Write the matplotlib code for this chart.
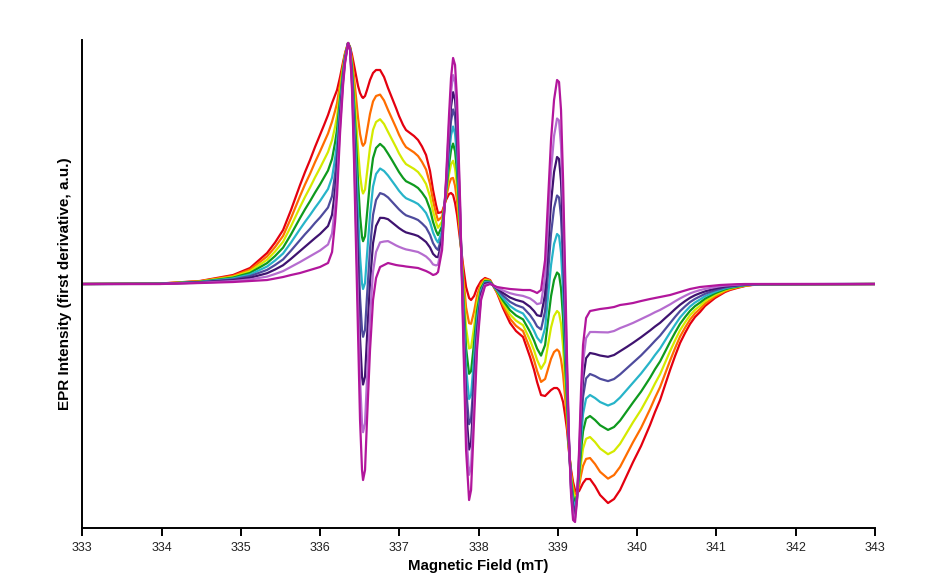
import matplotlib
matplotlib.use("Agg")
import matplotlib.pyplot as plt

plt.rcParams['font.family'] = ['Liberation Sans', 'DejaVu Sans']

field_mT = [
    # 333.0 - 336.32
    333.0, 333.980, 334.485, 334.902, 335.116, 335.331, 335.432, 335.533, 335.633, 335.747, 335.810,
    335.873, 335.936, 335.999, 336.050, 336.100, 336.151, 336.189, 336.214, 336.252, 336.290, 336.315,
    # 336.35 - 336.76
    336.353, 336.378, 336.403, 336.428, 336.454, 336.479, 336.504, 336.529, 336.542, 336.567,
    336.592, 336.630, 336.668, 336.706, 336.757,
    # 336.8 - 337.49
    336.807, 336.857, 336.908, 336.958, 336.996, 337.047, 337.084, 337.135, 337.185, 337.236,
    337.286, 337.337, 337.387, 337.425, 337.463, 337.488,
    # 337.54 - 338.15
    337.539, 337.589, 337.627, 337.652, 337.678, 337.703, 337.728, 337.766, 337.804, 337.842,
    337.880, 337.905, 337.943, 337.980, 338.031, 338.081, 338.145,
    # 338.23 - 338.99
    338.233, 338.308, 338.397, 338.472, 338.561, 338.649, 338.700, 338.738, 338.788, 338.839,
    338.876, 338.914, 338.952, 338.990,
    # 339.01 - 339.63
    339.015, 339.040, 339.066, 339.091, 339.116, 339.141, 339.167, 339.192, 339.217, 339.242,
    339.268, 339.293, 339.318, 339.356, 339.406, 339.469, 339.533, 339.633,
    # 339.7 - 343
    339.709, 339.785, 339.873, 339.949, 340.050, 340.163, 340.226, 340.290, 340.353, 340.416,
    340.479, 340.542, 340.605, 340.668, 340.731, 340.794, 340.857, 340.920, 340.983, 341.047,
    341.110, 341.173, 341.261, 341.362, 341.450, 341.551, 343.0,
]

red = [
    0, 0.5, 3, 9, 16, 31, 41.5, 54, 74, 99, 112, 124, 137, 149, 159, 169, 181, 189, 194, 207, 222, 231,
    241, 237, 229, 219, 208, 198, 191, 187, 186, 188, 194, 204, 211, 214, 214,
    207, 196, 186, 176, 168, 159, 154, 151, 148, 144, 137.5, 129, 113, 94, 79, 71,
    72, 84, 90, 91, 89, 81, 69, 44, 19, -3, -14, -16, -12, -4, 3, 6, 4,
    -9, -24, -39, -47, -53, -73, -86, -98, -111, -112, -109, -106, -104, -104,
    -106, -111, -118, -131, -146, -168, -186, -198, -206, -209, -207, -203, -199, -195, -195, -202, -211, -219,
    -215, -206, -191, -178, -162, -141, -128, -116, -101, -86, -72, -59, -49, -40, -33, -28, -22, -18, -14,
    -11, -8, -6, -4, -2, -1, -0.5, 0,
]

orange = [
    0, 0.4, 2.8, 8.1, 14.4, 27.6, 37, 48.1, 65.9, 88, 99.6, 110.2, 121.8, 132.5, 141.5, 150.5, 162.4, 173.1,
    180.9, 200, 219.1, 229.8,
    241, 236.6, 224.6, 207.1, 186.2, 166.2, 150.1, 140.4, 138.2, 141.2, 152.8, 170.2, 182.6, 188, 189.4,
    183.5, 174.1, 165.2, 156.4, 149.3, 141.4, 136.9, 134.2, 131.6, 128, 122.1, 114.5, 100.2, 83.4, 70.4, 63.6,
    67.2, 86.5, 99.9, 105.4, 106.1, 98.2, 83.4, 49, 10.9, -23.4, -39.2, -39.8, -27.5, -11.8, 0.6, 5, 3.5,
    -8.2, -21.5, -34.8, -41.8, -47.1, -64.6, -76.2, -86.9, -97.9, -95, -84.9, -74.8, -68, -65.5,
    -67.5, -75.4, -90.2, -112.9, -137.2, -166.5, -189.1, -202.8, -210, -209.9, -201.9, -190.9, -181.8,
    -174.9, -174, -180, -187.8, -194.6,
    -191, -182.9, -169.6, -158.1, -143.9, -125.2, -113.8, -103.1, -89.9, -76.6, -64.2, -52.6, -43.7,
    -35.6, -29.4, -24.9, -19.6, -16, -12.4, -9.8, -7.1, -5.3, -3.5, -1.8, -0.9, -0.4, 0,
]

yellow = [
    0, 0.4, 2.5, 7.2, 12.8, 24.2, 32.5, 42.2, 57.8, 77, 87.1, 96.5, 106.6, 116, 124, 132, 143.8, 157.2,
    167.8, 193, 216.2, 228.5,
    241, 236.2, 220.2, 195.2, 164.5, 134.5, 109.2, 93.8, 90.5, 94.5, 111.5, 136.5, 154.2, 162, 164.8,
    160, 152.2, 144.5, 136.8, 130.6, 123.8, 119.9, 117.5, 115.1, 112, 106.8, 100, 87.5, 72.8, 61.8, 56.2,
    62.5, 89, 109.8, 119.8, 123.2, 115.5, 97.8, 54, 2.8, -43.8, -64.5, -63.5, -43, -19.5, -1.8, 4, 3,
    -7.5, -19, -30.5, -36.6, -41.2, -56.2, -66.4, -75.8, -84.8, -78, -60.8, -43.5, -32, -27,
    -29, -39.8, -62.5, -94.8, -128.5, -165, -192.2, -207.5, -214, -210.8, -196.8, -178.8, -164.5,
    -154.8, -153, -158, -164.5, -170.2,
    -167, -159.8, -148.2, -138.2, -125.8, -109.5, -99.5, -90.2, -78.8, -67.2, -56.4, -46.2, -38.4,
    -31.2, -25.8, -21.8, -17.1, -14, -10.9, -8.5, -6.2, -4.6, -3.0, -1.5, -0.8, -0.4, 0,
]

green = [
    0, 0.3, 2.2, 6.4, 11.1, 20.9, 28, 36.4, 49.6, 66, 74.7, 82.8, 91.4, 99.5, 106.5, 113.5, 125.1, 141.4,
    154.6, 186, 213.4, 227.2,
    241, 235.9, 215.9, 183.4, 142.8, 102.8, 68.4, 47.1, 42.8, 47.8, 70.2, 102.8, 125.9, 136, 140.1,
    136.5, 130.4, 123.8, 117.1, 111.9, 106.1, 102.8, 100.8, 98.7, 96, 91.4, 85.5, 74.8, 62.1, 53.1, 48.9,
    57.8, 91.5, 119.6, 134.1, 140.4, 132.8, 112.1, 59, -5.4, -64.1, -89.8, -87.2, -58.5, -27.2, -4.1, 3, 2.5,
    -6.8, -16.5, -26.2, -31.4, -35.4, -47.9, -56.6, -64.6, -71.6, -61, -36.6, -12.2, 4, 11.5,
    9.5, -4.1, -34.8, -76.6, -119.8, -163.5, -195.4, -212.2, -218, -211.6, -191.6, -166.6, -147.2,
    -134.6, -132, -136, -141.2, -145.9,
    -143, -136.6, -126.9, -118.4, -107.6, -93.8, -85.2, -77.4, -67.6, -57.9, -48.6, -39.9, -33.1,
    -26.9, -22.1, -18.6, -14.7, -12, -9.3, -7.2, -5.3, -3.9, -2.6, -1.2, -0.6, -0.3, 0,
]

cyan = [
    0, 0.2, 2.0, 5.5, 9.5, 17.5, 23.5, 30.5, 41.5, 55, 62.2, 69, 76.2, 83, 89, 95, 106.5, 125.5,
    141.5, 179, 210.5, 226,
    241, 235.5, 211.5, 171.5, 121, 71, 27.5, 0.5, -5, 1, 29, 69, 97.5, 110, 115.5,
    113, 108.5, 103, 97.5, 93.2, 88.5, 85.8, 84, 82.2, 80, 76, 71, 62, 51.5, 44.5, 41.5,
    53, 94, 129.5, 148.5, 157.5, 150, 126.5, 64, -13.5, -84.5, -115, -111, -74, -35, -6.5, 2, 2,
    -6, -14, -22, -26.2, -29.5, -39.5, -46.8, -53.5, -58.5, -44, -12.5, 19, 40, 50,
    48, 31.5, -7, -58.5, -111, -162, -198.5, -217, -222, -212.5, -186.5, -154.5, -130,
    -114.5, -111, -114, -118, -121.5,
    -119, -113.5, -105.5, -98.5, -89.5, -78, -71, -64.5, -56.5, -48.5, -40.8, -33.5, -27.8,
    -22.5, -18.5, -15.5, -12.2, -10, -7.8, -6, -4.3, -3.2, -2.1, -1, -0.5, -0.2, 0,
]

slate = [
    0, 0.2, 1.8, 4.6, 7.9, 14.1, 19, 24.6, 33.4, 44, 49.8, 55.2, 61.1, 66.5, 71.5, 76.5, 87.9, 109.6,
    128.4, 172, 207.6, 224.8,
    241, 235.1, 207.1, 159.6, 99.2, 39.2, -13.4, -46.1, -52.8, -45.8, -12.2, 35.2, 69.1, 84, 90.9,
    89.5, 86.6, 82.2, 77.9, 74.6, 70.9, 68.7, 67.2, 65.8, 64, 60.6, 56.5, 49.2, 40.9, 35.9, 34.1,
    48.2, 96.5, 139.4, 162.9, 174.6, 167.2, 140.9, 69, -21.6, -104.9, -140.2, -134.8, -89.5, -42.8, -8.9, 1, 1.5,
    -5.2, -11.5, -17.8, -21.1, -23.6, -31.1, -36.9, -42.4, -45.4, -27, 11.6, 50.2, 76, 88.5,
    86.5, 67.1, 20.8, -40.4, -102.2, -160.5, -201.6, -221.8, -226, -213.4, -181.4, -142.4, -112.8,
    -94.4, -90, -92, -94.8, -97.1,
    -95, -90.4, -84.1, -78.6, -71.4, -62.2, -56.8, -51.6, -45.4, -39.1, -32.9, -27.1, -22.4,
    -18.1, -14.9, -12.4, -9.8, -8, -6.2, -4.8, -3.4, -2.6, -1.6, -0.8, -0.4, -0.2, 0,
]

dark_purple = [
    0, 0.1, 1.5, 3.8, 6.2, 10.8, 14.5, 18.8, 25.2, 33, 37.4, 41.5, 45.9, 50, 54, 58, 69.2, 93.8,
    115.2, 165, 204.8, 223.5,
    241, 234.8, 202.8, 147.8, 77.5, 7.5, -54.2, -92.8, -100.5, -92.5, -53.5, 1.5, 40.8, 58, 66.2,
    66, 64.8, 61.5, 58.2, 55.9, 53.2, 51.6, 50.5, 49.4, 48, 45.2, 42, 36.5, 30.2, 27.2, 26.8,
    43.5, 99, 149.2, 177.2, 191.8, 184.5, 155.2, 74, -29.8, -125.2, -165.5, -158.5, -105, -50.5, -11.2, 0, 1,
    -4.5, -9, -13.5, -15.9, -17.8, -22.8, -27.1, -31.2, -32.2, -10, 35.8, 81.5, 112, 127,
    125, 102.8, 48.5, -22.2, -93.5, -159, -204.8, -226.5, -230, -214.2, -176.2, -130.2, -95.5,
    -74.2, -69, -70, -71.5, -72.8,
    -71, -67.2, -62.8, -58.8, -53.2, -46.5, -42.5, -38.8, -34.2, -29.8, -25.1, -20.8, -17.1,
    -13.8, -11.2, -9.2, -7.4, -6, -4.6, -3.5, -2.5, -1.9, -1.2, -0.5, -0.2, -0.1, 0,
]

light_purple = [
    0, 0.1, 1.2, 2.9, 4.6, 7.4, 10, 12.9, 17.1, 22, 24.9, 27.8, 30.7, 33.5, 36.5, 39.5, 50.6, 77.9,
    102.1, 158, 201.9, 222.2,
    241, 234.4, 198.4, 135.9, 55.8, -24.2, -95.1, -139.4, -148.2, -139.2, -94.8, -32.2, 12.4, 32, 41.6,
    42.5, 42.9, 40.8, 38.6, 37.2, 35.6, 34.6, 33.8, 32.9, 32, 29.9, 27.5, 23.8, 19.6, 18.6, 19.4,
    38.8, 101.5, 159.1, 191.6, 208.9, 201.8, 169.6, 79, -37.9, -145.6, -190.8, -182.2, -120.5, -58.2, -13.6, -1, 0.5,
    -3.8, -6.5, -9.2, -10.7, -11.9, -14.4, -17.3, -20.1, -19.1, 7, 59.9, 112.8, 148, 165.5,
    163.5, 138.4, 76.2, -4.1, -84.8, -157.5, -207.9, -231.2, -234, -215.1, -171.1, -118.1, -78.2,
    -54.1, -48, -48, -48.2, -48.4,
    -47, -44.1, -41.4, -38.9, -35.1, -30.8, -28.2, -25.9, -23.1, -20.4, -17.3, -14.4, -11.8,
    -9.4, -7.6, -6.1, -4.9, -4, -3.1, -2.2, -1.6, -1.2, -0.7, -0.2, -0.1, -0.1, 0,
]

magenta = [
    0, 0, 1, 2, 3, 4, 5.5, 7, 9, 11, 12.5, 14, 15.5, 17, 19, 21, 32, 62, 89, 151, 199, 221,
    241, 234, 194, 124, 34, -56, -136, -186, -196, -186, -136, -66, -16, 6, 17,
    19, 21, 20, 19, 18.5, 18, 17.5, 17, 16.5, 16, 14.5, 13, 11, 9, 10, 12,
    34, 104, 169, 206, 226, 219, 184, 84, -46, -166, -216, -206, -136, -66, -16, -2, 0,
    -3, -4, -5, -5.5, -6, -6, -7.5, -9, -6, 24, 84, 144, 184, 204,
    202, 174, 104, 14, -76, -156, -211, -236, -238, -216, -166, -106, -61, -34, -27, -26, -25, -24,
    -23, -21, -20, -19, -17, -15, -14, -13, -12, -11, -9.5, -8, -6.5, -5, -4, -3, -2.5, -2, -1.5,
    -1, -0.7, -0.5, -0.2, 0, 0, 0, 0,
]

series = [red, orange, yellow, green, cyan, slate, dark_purple, light_purple, magenta]
colors = ['#e4000f', '#ff6d00', '#d4ea00', '#0e9a1e', '#27b4c9',
          '#4e4b9d', '#3f1370', '#b56ccf', '#b2169c']

x_ticks = [333, 334, 335, 336, 337, 338, 339, 340, 341, 342, 343]

fig = plt.figure(figsize=(9.53, 5.83), dpi=100)
ax = fig.add_axes([0.0864, 0.0943, 0.8316, 0.8371])

for ys, c in zip(series, colors):
    ax.plot(field_mT, ys, color=c, lw=1.6, solid_joinstyle='round', solid_capstyle='round')

ax.set_xlim(333, 343)
ax.set_ylim(-244, 244)
ax.set_xticks(x_ticks)
ax.set_xticklabels([str(t) for t in x_ticks])
ax.set_yticks([])

for s in ['top', 'right']:
    ax.spines[s].set_visible(False)
for s in ['left', 'bottom']:
    ax.spines[s].set_linewidth(1.4)
    ax.spines[s].set_color('black')

ax.tick_params(axis='x', direction='out', length=5.5, width=1.4, pad=4.5,
               labelsize=9, colors='black', labelcolor='#222222')

ax.set_xlabel('Magnetic Field (mT)', fontsize=10.8, fontweight='bold')
ax.set_ylabel('EPR Intensity (first derivative, a.u.)', fontsize=11.0, fontweight='bold')
ax.xaxis.set_label_coords(0.5, -0.064)
ax.yaxis.set_label_coords(-0.0126, 0.5)

fig.savefig('out.png', dpi=100)
